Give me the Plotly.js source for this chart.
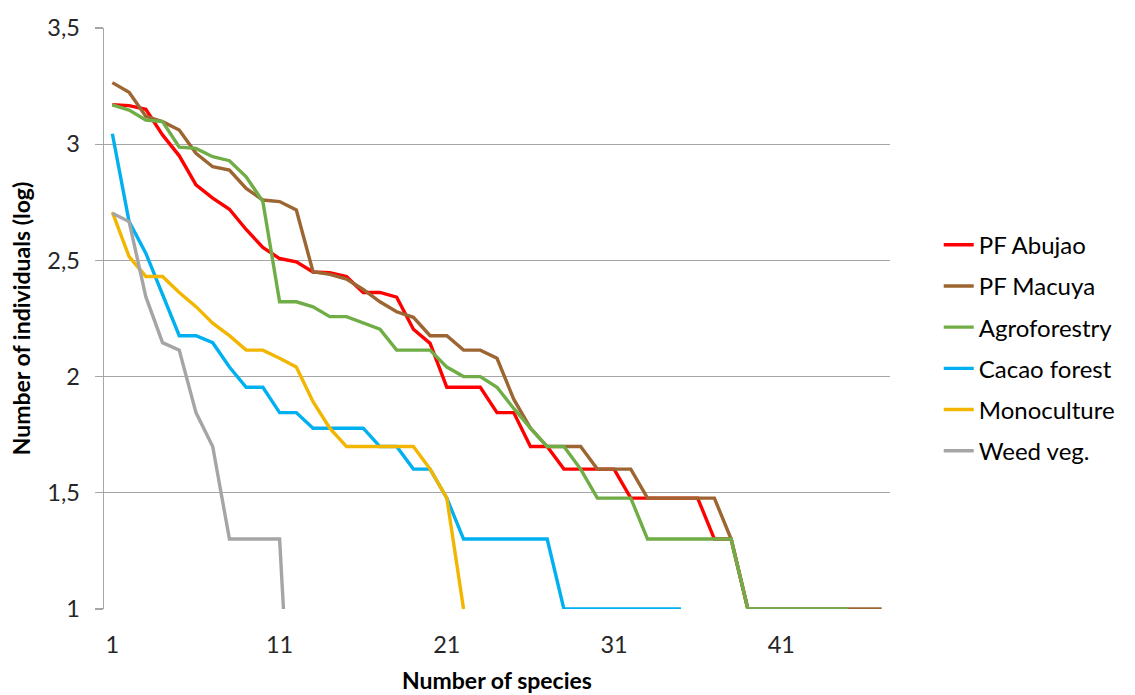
<!DOCTYPE html>
<html>
<head>
<meta charset="utf-8">
<script src="https://cdn.plot.ly/plotly-3.0.1.min.js"></script>
<style>html,body{margin:0;padding:0;background:#fff}#chart{width:1135px;height:695px}</style>
</head>
<body>
<div id="chart"></div>
<script>
const rank = [1,2,3,4,5,6,7,8,9,10,11,12,13,14,15,16,17,18,19,20,21,22,23,24,25,26,27,28,29,30,31,32,33,34,35,36,37,38,39,40,41,42,43,44,45,46,47];
const xTickVals = [1, 11, 21, 31, 41];
const seriesNames = ["PF Abujao", "PF Macuya", "Agroforestry", "Cacao forest", "Monoculture", "Weed veg."];

const abujao = [3.17,3.166,3.15,3.04,2.95,2.825,2.768,2.72,2.633,2.556,2.508,2.494,2.45,2.447,2.43,2.362,2.362,2.342,2.204,2.143,1.954,1.954,1.954,1.845,1.845,1.699,1.699,1.602,1.602,1.602,1.602,1.477,1.477,1.477,1.477,1.477,1.301,1.301,1.0];
const macuya = [3.265,3.223,3.12,3.097,3.061,2.961,2.903,2.889,2.81,2.76,2.753,2.717,2.451,2.44,2.42,2.375,2.322,2.279,2.255,2.176,2.176,2.114,2.114,2.079,1.903,1.778,1.699,1.699,1.699,1.602,1.602,1.602,1.477,1.477,1.477,1.477,1.477,1.301,1.0,1.0,1.0,1.0,1.0,1.0,1.0,1.0,1.0];
const agroforestry = [3.169,3.147,3.104,3.097,2.987,2.982,2.946,2.929,2.86,2.753,2.322,2.322,2.30,2.258,2.258,2.232,2.204,2.114,2.114,2.114,2.041,2.0,2.0,1.954,1.863,1.778,1.699,1.699,1.602,1.477,1.477,1.477,1.301,1.301,1.301,1.301,1.301,1.301,1.0,1.0,1.0,1.0,1.0,1.0,1.0];
const cacao = [3.045,2.667,2.531,2.351,2.176,2.176,2.146,2.041,1.954,1.954,1.845,1.845,1.778,1.778,1.778,1.778,1.699,1.699,1.602,1.602,1.477,1.301,1.301,1.301,1.301,1.301,1.301,1.0,1.0,1.0,1.0,1.0,1.0,1.0,1.0];
const monoculture = [2.708,2.516,2.431,2.431,2.362,2.301,2.23,2.176,2.114,2.114,2.079,2.041,1.892,1.778,1.699,1.699,1.699,1.699,1.699,1.602,1.477,1.0];
const weed = [2.703,2.667,2.344,2.146,2.114,1.845,1.699,1.301,1.301,1.301,1.301,0];

const seriesValues = [abujao, macuya, agroforestry, cacao, monoculture, weed];
const colors = ["#FF0000", "#9C6531", "#70AD47", "#00B0F0", "#F2B600", "#A5A5A5"];

const FONT = "Lato, Carlito, 'Liberation Sans', sans-serif";

const traces = seriesValues.map((vals, i) => ({
  type: "scatter",
  mode: "lines",
  name: seriesNames[i],
  legendgroup: "g" + i,
  x: rank.slice(0, vals.length),
  y: vals,
  line: {color: colors[i], width: 3.4, shape: "linear"},
  hoverinfo: "x+y+name"
}));

const layout = {
  width: 1135,
  height: 695,
  margin: {l: 104, r: 245, t: 28, b: 86},
  paper_bgcolor: "#ffffff",
  plot_bgcolor: "#ffffff",
  separators: ", ",
  showlegend: true,
  legend: {
    x: 1.062, xanchor: "left",
    y: 0.665, yanchor: "top",
    traceorder: "grouped",
    tracegroupgap: 7,
    font: {family: FONT, size: 24, color: "#000000"},
    bgcolor: "rgba(0,0,0,0)"
  },
  xaxis: {
    range: [0.5, 47.5],
    tickmode: "array",
    tickvals: xTickVals,
    ticktext: xTickVals.map(String),
    showgrid: false,
    zeroline: false,
    showline: false,
    ticks: "",
    ticklabelstandoff: 19,
    tickfont: {family: FONT, size: 23.5, color: "#262626"},
    title: {text: "<b>Number of species</b>", font: {family: FONT, size: 23, color: "#000000"}, standoff: 16}
  },
  yaxis: {
    range: [1, 3.5],
    tickmode: "array",
    tickvals: [1, 1.5, 2, 2.5, 3, 3.5],
    showgrid: true,
    gridcolor: "#A6A6A6",
    gridwidth: 1.4,
    zeroline: false,
    showline: true,
    linecolor: "#A6A6A6",
    linewidth: 1.4,
    ticks: "outside",
    ticklen: 8,
    tickcolor: "#A6A6A6",
    tickwidth: 1.4,
    ticklabelstandoff: 10,
    tickfont: {family: FONT, size: 23.5, color: "#262626"},
    title: {text: "<b>Number of individuals (log)</b>", font: {family: FONT, size: 23, color: "#000000"}, standoff: 10}
  }
};

Plotly.newPlot("chart", traces, layout, {displayModeBar: false, staticPlot: true});
</script>
</body>
</html>
